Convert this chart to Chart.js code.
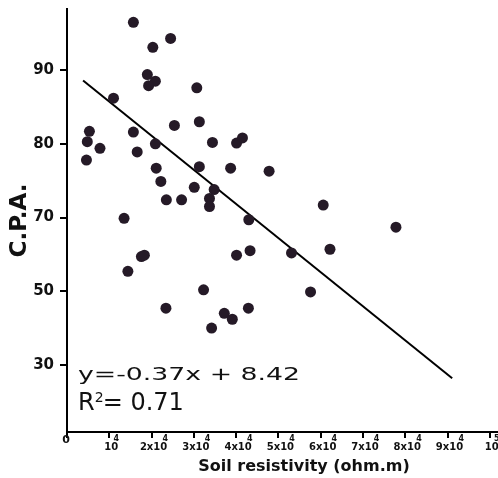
<!DOCTYPE html>
<html>
<head>
<meta charset="utf-8">
<script src="https://cdn.jsdelivr.net/npm/chart.js@4"></script>
<style>
  html, body { margin: 0; padding: 0; background: #fff; }
  #wrap { width: 498px; height: 478px; }
</style>
</head>
<body>
<div id="wrap"><canvas id="cpaChart"></canvas></div>
<script>
// Soil resistivity (x 10^4 ohm.m) vs C.P.A.
const resistivity = [1.57, 2.45, 2.03, 1.90, 2.09, 1.93, 3.07, 1.10, 0.53, 0.48,
                     0.78, 0.46, 1.57, 1.66, 2.09, 2.54, 3.13, 3.44, 4.01, 4.15,
                     2.11, 2.22, 3.13, 3.87, 3.01, 3.48, 2.35, 2.71, 3.37, 3.37,
                     1.35, 4.30, 4.78, 6.06, 7.78, 1.44, 1.76, 1.83, 4.01, 4.33,
                     3.23, 2.34, 3.72, 3.91, 3.42, 4.29, 5.31, 6.22, 5.76];
const cpa = [96.5, 94.3, 93.1, 89.4, 88.5, 87.9, 87.6, 86.2, 81.7, 80.3,
             79.4, 77.8, 81.6, 78.9, 80.0, 82.5, 83.0, 80.2, 80.1, 80.8,
             76.7, 74.9, 76.9, 76.7, 74.1, 73.8, 72.4, 72.4, 72.6, 71.5,
             69.9, 69.7, 76.3, 71.7, 68.7, 62.7, 64.7, 64.9, 64.9, 65.5,
             60.2, 57.7, 57.0, 56.2, 55.0, 57.7, 65.2, 65.7, 59.9];

// fitted line end points
const fitX = [0.38, 9.11];
const fitY = [88.6, 48.2];

// axis ticks
const yTickValues = [50, 60, 70, 80, 90];
const yTickLabels = ['30', '50', '70', '80', '90'];
const xTickValues = [1, 2, 3, 4, 5, 6, 7, 8, 9, 10];
const xTickMain = ['10', '2x10', '3x10', '4x10', '5x10', '6x10', '7x10', '8x10', '9x10', '10'];
const xTickExp = ['4', '4', '4', '4', '4', '4', '4', '4', '4', '5'];

const FONT = '"DejaVu Sans", Verdana, sans-serif';

const textPlugin = {
    id: 'textPlugin',
    afterDraw(chart) {
        const ctx = chart.ctx;
        const xs = chart.scales.x;
        const area = chart.chartArea;
        ctx.save();
        ctx.fillStyle = '#111';

        // x tick labels with exponent
        ctx.textBaseline = 'middle';
        xTickValues.forEach((v, i) => {
            const px = xs.getPixelForValue(v) + 2;
            ctx.font = 'bold 10px ' + FONT;
            ctx.textAlign = 'center';
            ctx.fillText(xTickMain[i], px, area.bottom + 15);
            const w = ctx.measureText(xTickMain[i]).width;
            ctx.font = 'bold 8px ' + FONT;
            ctx.fillText(xTickExp[i], px + w / 2 - 2, area.bottom + 6.5);
        });
        ctx.font = 'bold 11px ' + FONT;
        ctx.fillText('0', xs.getPixelForValue(0) - 1, area.bottom + 8);

        // x axis title
        ctx.font = 'bold 16px ' + FONT;
        ctx.textAlign = 'center';
        ctx.textBaseline = 'alphabetic';
        ctx.fillText('Soil resistivity (ohm.m)', 304, 471);

        // regression equation
        ctx.textAlign = 'left';
        ctx.font = '18px ' + FONT;
        const eq = 'y=-0.37x + 8.42';
        const eqW = ctx.measureText(eq).width;
        ctx.save();
        ctx.translate(78, 380);
        ctx.scale(222 / eqW, 1);
        ctx.fillText(eq, 0, 0);
        ctx.restore();

        // R squared
        ctx.font = '24px ' + FONT;
        ctx.fillText('R', 78, 410);
        const rW = ctx.measureText('R').width;
        ctx.font = '14px ' + FONT;
        ctx.fillText('2', 78 + rW, 402);
        ctx.font = '24px ' + FONT;
        ctx.fillText('= 0.71', 78 + rW + 8, 410);
        ctx.restore();
    }
};

new Chart(document.getElementById('cpaChart'), {
    type: 'scatter',
    data: {
        datasets: [
            {
                data: resistivity.map((x, i) => ({ x: x, y: cpa[i] })),
                backgroundColor: '#251a27',
                borderWidth: 0,
                pointRadius: 5.5,
                pointHoverRadius: 5.5
            },
            {
                type: 'line',
                data: fitX.map((x, i) => ({ x: x, y: fitY[i] })),
                borderColor: '#000',
                borderWidth: 2,
                pointRadius: 0,
                fill: false
            }
        ]
    },
    options: {
        responsive: true,
        maintainAspectRatio: false,
        animation: false,
        layout: { autoPadding: false, padding: { top: 9, right: 1, left: 0, bottom: 0 } },
        plugins: {
            legend: { display: false },
            tooltip: { enabled: false }
        },
        scales: {
            x: {
                type: 'linear',
                min: 0,
                max: 10.17,
                afterFit: (scale) => {
                    scale.height = 46;
                    scale.paddingLeft = 0;
                    scale.paddingRight = 0;
                },
                afterBuildTicks: (scale) => {
                    scale.ticks = [0].concat(xTickValues).map(v => ({ value: v }));
                },
                border: { display: true, color: '#000', width: 2 },
                grid: { display: true, drawOnChartArea: false, drawTicks: true, tickLength: 6, color: '#000', lineWidth: 2 },
                ticks: { display: false }
            },
            y: {
                type: 'linear',
                min: 40.9,
                max: 98.3,
                afterFit: (scale) => {
                    scale.width = 67;
                    scale.paddingTop = 0;
                    scale.paddingBottom = 0;
                },
                afterBuildTicks: (scale) => {
                    scale.ticks = yTickValues.map(v => ({ value: v }));
                },
                border: { display: true, color: '#000', width: 2 },
                grid: { display: true, drawOnChartArea: false, drawTicks: true, tickLength: 7, color: '#000', lineWidth: 2 },
                ticks: {
                    padding: 6,
                    color: '#111',
                    font: { family: FONT, size: 15, weight: 'bold' },
                    callback: (value) => {
                        const i = yTickValues.indexOf(value);
                        return i >= 0 ? yTickLabels[i] : '';
                    }
                },
                title: {
                    display: true,
                    text: 'C.P.A.',
                    color: '#111',
                    padding: { top: 6, bottom: 0 },
                    font: { family: FONT, size: 23, weight: 'bold' }
                }
            }
        }
    },
    plugins: [textPlugin]
});
</script>
</body>
</html>
